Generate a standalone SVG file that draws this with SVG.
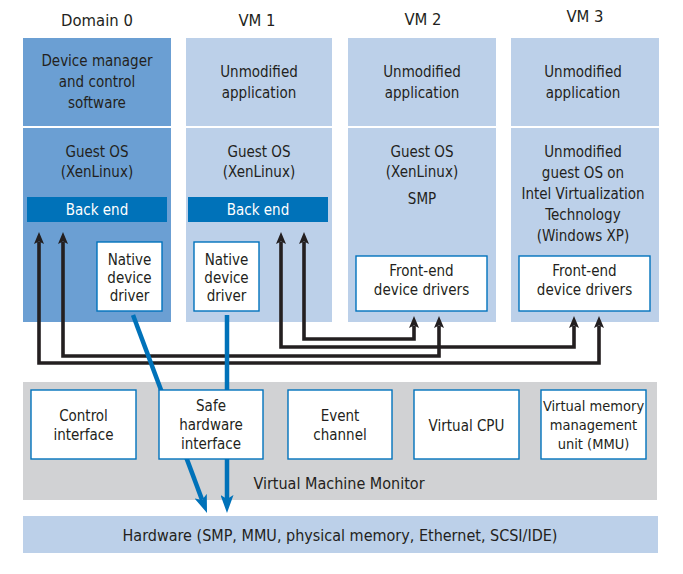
<svg xmlns="http://www.w3.org/2000/svg" width="683" height="574" viewBox="0 0 683 574">
<defs>
<style>
text{font-family:"Liberation Sans Narrow","DejaVu Sans Condensed","Liberation Sans",sans-serif;font-size:15px;fill:#231f20;text-anchor:middle}
.hdr{font-size:16.5px}
.hw{font-size:16px}
.sm{font-size:14.5px}
.dark{fill:#6b9fd3}
.light{fill:#bcd0e9}
.bar{fill:#0072b9}
.bartxt{fill:#ffffff}
.box{fill:#ffffff;stroke:#0072bc;stroke-width:1.4}
.vmm{fill:#d1d2d4}
.blk{fill:none;stroke:#231f20;stroke-width:3.6;stroke-linejoin:miter}
.blu{fill:none;stroke:#0072b9;stroke-width:4.5}
</style>
<marker id="ah" viewBox="0 0 12 10" refX="2" refY="5" markerWidth="12" markerHeight="10" markerUnits="userSpaceOnUse" orient="auto-start-reverse">
<path d="M0,0 L12,5 L0,10 L2.5,5 z" fill="#231f20"/>
</marker>
<marker id="bh" viewBox="0 0 18 13" refX="4" refY="6.5" markerWidth="18" markerHeight="13" markerUnits="userSpaceOnUse" orient="auto">
<path d="M0,0 L18,6.5 L0,13 L4,6.5 z" fill="#0072b9"/>
</marker>
</defs>
<rect width="683" height="574" fill="#ffffff"/>

<g id="domain0">
<text class="hdr" x="97" y="26">Domain 0</text>
<rect class="dark" x="23" y="38" width="148" height="88"/>
<rect class="dark" x="23" y="128" width="148" height="194"/>
<text x="97" y="66">Device manager</text>
<text x="97" y="87">and control</text>
<text x="97" y="108">software</text>
<text x="97" y="157">Guest OS</text>
<text x="97" y="177">(XenLinux)</text>
<rect class="bar" x="27" y="197" width="140" height="25"/>
<text class="bartxt" x="97" y="215">Back end</text>
</g>
<g id="dom0-native">
<rect class="box" x="97" y="242" width="65" height="69"/>
<text x="129.5" y="265">Native</text>
<text x="129.5" y="283">device</text>
<text x="129.5" y="301">driver</text>
</g>

<g id="vm1">
<text class="hdr" x="257" y="26">VM 1</text>
<rect class="light" x="186" y="38" width="146" height="88"/>
<rect class="light" x="186" y="128" width="146" height="194"/>
<text x="259" y="77">Unmodified</text>
<text x="259" y="98">application</text>
<text x="259" y="157">Guest OS</text>
<text x="259" y="177">(XenLinux)</text>
<rect class="bar" x="188" y="197" width="140" height="25"/>
<text class="bartxt" x="258" y="215">Back end</text>
</g>
<g id="vm1-native">
<rect class="box" x="194" y="242" width="65" height="69"/>
<text x="226.5" y="265">Native</text>
<text x="226.5" y="283">device</text>
<text x="226.5" y="301">driver</text>
</g>

<g id="vm2">
<text class="hdr" x="423" y="25">VM 2</text>
<rect class="light" x="348" y="38" width="148" height="88"/>
<rect class="light" x="348" y="128" width="148" height="194"/>
<text x="422" y="77">Unmodified</text>
<text x="422" y="98">application</text>
<text x="422" y="157">Guest OS</text>
<text x="422" y="177">(XenLinux)</text>
<text x="422" y="204">SMP</text>
</g>
<g id="vm2-frontend">
<rect class="box" x="356" y="256" width="131" height="55"/>
<text x="421.5" y="276">Front-end</text>
<text x="421.5" y="295">device drivers</text>
</g>

<g id="vm3">
<text class="hdr" x="585" y="22">VM 3</text>
<rect class="light" x="511" y="38" width="148" height="88"/>
<rect class="light" x="511" y="128" width="148" height="194"/>
<text x="583" y="77">Unmodified</text>
<text x="583" y="98">application</text>
<text x="583" y="157">Unmodified</text>
<text x="583" y="178">guest OS on</text>
<text x="583" y="199">Intel Virtualization</text>
<text x="583" y="220">Technology</text>
<text x="583" y="241">(Windows XP)</text>
</g>
<g id="vm3-frontend">
<rect class="box" x="519" y="256" width="131" height="55"/>
<text x="584.5" y="276">Front-end</text>
<text x="584.5" y="295">device drivers</text>
</g>

<g id="vmm">
<rect class="vmm" x="23" y="382" width="634" height="118"/>
<text class="hw" x="339" y="489">Virtual Machine Monitor</text>
</g>

<g id="hardware">
<rect class="light" x="23" y="516" width="635" height="37"/>
<text class="hw" x="340" y="541">Hardware (SMP, MMU, physical memory, Ethernet, SCSI/IDE)</text>
</g>

<g id="connectors">
<path class="blk" d="M39,242 V363 H599 V326" marker-start="url(#ah)" marker-end="url(#ah)"/>
<path class="blk" d="M63,242 V356 H439 V326" marker-start="url(#ah)" marker-end="url(#ah)"/>
<path class="blk" d="M281,242 V347 H574 V326" marker-start="url(#ah)" marker-end="url(#ah)"/>
<path class="blk" d="M304,242 V339 H414 V326" marker-start="url(#ah)" marker-end="url(#ah)"/>
<path class="blu" d="M133,315 L202.1,499.9" marker-end="url(#bh)"/>
<path class="blu" d="M227,315 V499" marker-end="url(#bh)"/>
</g>

<g id="control-interface">
<rect class="box" x="31" y="390" width="105" height="69"/>
<text x="83.5" y="421">Control</text>
<text x="83.5" y="440">interface</text>
</g>
<g id="safe-hardware-interface">
<rect class="box" x="159" y="390" width="104" height="69"/>
<text x="211" y="411">Safe</text>
<text x="211" y="430">hardware</text>
<text x="211" y="449">interface</text>
</g>
<g id="event-channel">
<rect class="box" x="288" y="390" width="104" height="69"/>
<text x="340" y="421">Event</text>
<text x="340" y="440">channel</text>
</g>
<g id="virtual-cpu">
<rect class="box" x="414" y="390" width="105" height="69"/>
<text x="466.5" y="431">Virtual CPU</text>
</g>
<g id="mmu">
<rect class="box" x="541" y="390" width="105" height="69"/>
<text class="sm" x="593.5" y="411">Virtual memory</text>
<text class="sm" x="593.5" y="430">management</text>
<text class="sm" x="593.5" y="449">unit (MMU)</text>
</g>
</svg>
